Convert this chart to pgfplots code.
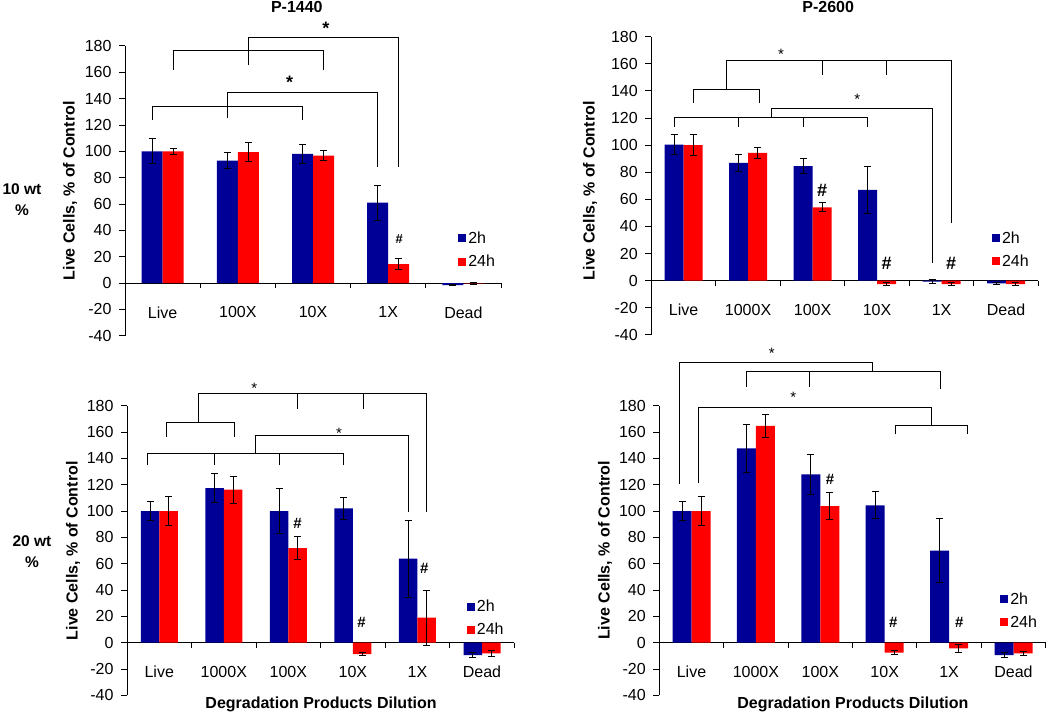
\documentclass[border=0pt]{standalone}
\usepackage{fontspec}
\setmainfont{Liberation Sans}
\usepackage{pgfplots}
\pgfplotsset{compat=1.18}
\definecolor{bblue}{RGB}{0,0,150}
\definecolor{rred}{RGB}{255,0,0}
\newcommand\fs{\fontsize{16}{19}\selectfont}
\tikzset{brk/.style={black, line width=1pt}}
\pgfplotsset{
 panel/.style={
   scale only axis,
   axis x line*=middle,
   axis y line*=left,
   axis line style={black, line width=1pt},
   ymin=-40, ymax=180,
   ytick={-40,-20,...,180},
   tick align=outside,
   major tick length=6pt,
   minor tick length=5pt,
   tick style={black, line width=1pt},
   major x tick style={draw=none},
   ybar=0pt,
   clip=false,
   tick label style={font=\fs},
   /pgf/number format/assume math mode=true,
   x tick label style={yshift=-14pt},
   y tick label style={xshift=-4pt},
   label style={font=\fs\bfseries},
   every axis title shift=0pt,
   ylabel={Live Cells, \% of Control},
   error bars/error bar style={draw=black, line width=1pt, solid},
   error bars/error mark options={rotate=90, draw=black, mark size=3.5pt, line width=1pt},
   legend style={draw=none, fill=none, font=\fs, inner sep=0pt, row sep=6pt, legend cell align=left},
   legend image code/.code={\fill[##1] (1pt,-4pt) rectangle (9pt,4pt);},
 },
 bl/.style={fill=bblue, draw=none, error bars/.cd, y dir=both, y explicit},
 rd/.style={fill=rred, draw=none, error bars/.cd, y dir=both, y explicit},
}
\begin{document}
\begin{tikzpicture}
\path[use as bounding box] (0,0) rectangle (1050pt,713pt);
% ---------- Panel 1 ----------
\begin{axis}[panel, at={(125pt,377.3pt)}, anchor=south west, width=376pt, height=289.7pt,
 xmin=-0.5, xmax=4.5, xtick={0,...,4}, xticklabels={Live,100X,10X,1X,Dead},
 minor xtick={0.5,1.5,2.5,3.5,4.5}, bar width=21pt,
 ylabel style={at={(axis description cs:-0.146,0.5)}, anchor=center},
 title={P-1440}, title style={at={(axis description cs:0.457,1.133)}, anchor=center, font=\fs\bfseries},
 legend style={at={(0.886,0.366)}, anchor=north west}]
\addplot[bl] coordinates {(0,100)+-(0,9.5) (1,93)+-(0,6) (2,98)+-(0,7.5) (3,61)+-(0,13.3) (4,-1.5)+-(0,0.7)};
\addplot[rd] coordinates {(0,100)+-(0,2.4) (1,99.5)+-(0,7.3) (2,96.7)+-(0,3.7) (3,14.4)+-(0,4.2) (4,-0.3)+-(0,1)};
\legend{2h,24h}
\draw[brk] (axis cs:1.14,165.8) -- (axis cs:1.14,186.8) -- (axis cs:3.14,186.8) -- (axis cs:3.14,88);
\draw[brk] (axis cs:0.14,162) -- (axis cs:0.14,176.7) -- (axis cs:2.14,176.7) -- (axis cs:2.14,162);
\draw[brk] (axis cs:0.86,125.6) -- (axis cs:0.86,144.6) -- (axis cs:2.86,144.6) -- (axis cs:2.86,88);
\draw[brk] (axis cs:-0.14,124) -- (axis cs:-0.14,134.2) -- (axis cs:1.86,134.2) -- (axis cs:1.86,124);
\node[anchor=base, font=\fontsize{18}{20}\selectfont\bfseries] at (axis cs:2.17,188.9) {*};
\node[anchor=base, font=\fontsize{18}{20}\selectfont\bfseries] at (axis cs:1.69,147.6) {*};
\node[font=\fontsize{13}{15}\selectfont\bfseries] at (axis cs:3.148,33) {\#};
\end{axis}
% ---------- Panel 2 ----------
\begin{axis}[panel, at={(651.3pt,378.1pt)}, anchor=south west, width=387pt, height=298.2pt,
 xmin=-0.5, xmax=5.5, xtick={0,...,5}, xticklabels={Live,1000X,100X,10X,1X,Dead},
 minor xtick={0.5,1.5,2.5,3.5,4.5,5.5}, bar width=19pt,
 ylabel style={at={(axis description cs:-0.158,0.483)}, anchor=center},
 title={P-2600}, title style={at={(axis description cs:0.457,1.098)}, anchor=center, font=\fs\bfseries},
 legend style={at={(0.88,0.353)}, anchor=north west}]
\addplot[bl] coordinates {(0,100.3)+-(0,7.2) (1,87)+-(0,6.2) (2,84.6)+-(0,5.6) (3,66.9)+-(0,17.6) (4,-0.7)+-(0,1.5) (5,-2)+-(0,1)};
\addplot[rd] coordinates {(0,100)+-(0,8) (1,94.2)+-(0,3.8) (2,54.1)+-(0,3.4) (3,-2.5)+-(0,1) (4,-2.5)+-(0,1) (5,-2.5)+-(0,1)};
\legend{2h,24h}
\draw[brk] (axis cs:0.665,141.1) -- (axis cs:0.665,162.5) -- (axis cs:4.147,162.5) -- (axis cs:4.147,42.8);
\draw[brk] (axis cs:2.147,162.5) -- (axis cs:2.147,151.5);
\draw[brk] (axis cs:3.147,162.5) -- (axis cs:3.147,151.5);
\draw[brk] (axis cs:0.16,130.8) -- (axis cs:0.16,141.1) -- (axis cs:1.17,141.1) -- (axis cs:1.17,130.8);
\draw[brk] (axis cs:1.356,120.2) -- (axis cs:1.356,126.9) -- (axis cs:3.853,126.9) -- (axis cs:3.853,13.3);
\draw[brk] (axis cs:-0.147,113.1) -- (axis cs:-0.147,120.2) -- (axis cs:2.853,120.2) -- (axis cs:2.853,113.1);
\draw[brk] (axis cs:0.853,120.2) -- (axis cs:0.853,113.1);
\draw[brk] (axis cs:1.853,120.2) -- (axis cs:1.853,113.1);
\node[anchor=base, font=\fontsize{15}{18}\selectfont] at (axis cs:1.511,163.1) {*};
\node[anchor=base, font=\fontsize{15}{18}\selectfont] at (axis cs:2.694,129.9) {*};
\node[font=\fontsize{18}{20}\selectfont\bfseries] at (axis cs:2.147,66.9) {\#};
\node[font=\fontsize{18}{20}\selectfont\bfseries] at (axis cs:3.147,12.8) {\#};
\node[font=\fontsize{18}{20}\selectfont\bfseries] at (axis cs:4.147,12.8) {\#};
\end{axis}
% ---------- Panel 3 ----------
\begin{axis}[panel, at={(127pt,17.6pt)}, anchor=south west, width=387.3pt, height=289.7pt,
 xmin=-0.5, xmax=5.5, xtick={0,...,5}, xticklabels={Live,1000X,100X,10X,1X,Dead},
 minor xtick={0.5,1.5,2.5,3.5,4.5,5.5}, bar width=18.5pt,
 ylabel style={at={(axis description cs:-0.139,0.499)}, anchor=center},
 xlabel={Degradation Products Dilution},
 xlabel style={at={(axis description cs:0.501,-0.03)}, anchor=center},
 legend style={at={(0.877,0.337)}, anchor=north west}]
\addplot[bl] coordinates {(0,100)+-(0,7.2) (1,117.5)+-(0,11.2) (2,100)+-(0,17) (3,102)+-(0,8.1) (4,63.8)+-(0,29.2) (5,-9.4)+-(0,2)};
\addplot[rd] coordinates {(0,100)+-(0,11.1) (1,116.2)+-(0,10.2) (2,71.9)+-(0,8.9) (3,-8.6)+-(0,1.3) (4,19)+-(0,20.8) (5,-8.1)+-(0,2)};
\legend{2h,24h}
\draw[brk] (axis cs:0.61,167.6) -- (axis cs:0.61,188.9) -- (axis cs:4.142,188.9) -- (axis cs:4.142,99.5);
\draw[brk] (axis cs:2.144,188.9) -- (axis cs:2.144,177.7);
\draw[brk] (axis cs:3.161,188.9) -- (axis cs:3.161,177.7);
\draw[brk] (axis cs:0.114,156.5) -- (axis cs:0.114,167.6) -- (axis cs:1.158,167.6) -- (axis cs:1.158,156.5);
\draw[brk] (axis cs:1.493,143.8) -- (axis cs:1.493,157.5) -- (axis cs:3.858,157.5) -- (axis cs:3.858,99.5);
\draw[brk] (axis cs:-0.18,134.7) -- (axis cs:-0.18,143.8) -- (axis cs:2.852,143.8) -- (axis cs:2.852,134.7);
\draw[brk] (axis cs:0.853,143.8) -- (axis cs:0.853,134.7);
\draw[brk] (axis cs:1.86,143.8) -- (axis cs:1.86,134.7);
\node[anchor=base, font=\fontsize{15}{18}\selectfont] at (axis cs:1.473,189.4) {*};
\node[anchor=base, font=\fontsize{15}{18}\selectfont] at (axis cs:2.784,155.2) {*};
\node[font=\fontsize{15}{18}\selectfont\bfseries] at (axis cs:2.144,91) {\#};
\node[font=\fontsize{15}{18}\selectfont\bfseries] at (axis cs:3.135,15.2) {\#};
\node[font=\fontsize{15}{18}\selectfont\bfseries] at (axis cs:4.106,56.2) {\#};
\end{axis}
% ---------- Panel 4 ----------
\begin{axis}[panel, at={(659.3pt,17.6pt)}, anchor=south west, width=386.4pt, height=289.7pt,
 xmin=-0.5, xmax=5.5, xtick={0,...,5}, xticklabels={Live,1000X,100X,10X,1X,Dead},
 minor xtick={0.5,1.5,2.5,3.5,4.5,5.5}, bar width=19pt,
 ylabel style={at={(axis description cs:-0.1405,0.5)}, anchor=center},
 xlabel={Degradation Products Dilution},
 xlabel style={at={(axis description cs:0.501,-0.03)}, anchor=center},
 legend style={at={(0.882,0.363)}, anchor=north west}]
\addplot[bl] coordinates {(0,100)+-(0,7.2) (1,147.6)+-(0,18.1) (2,127.8)+-(0,15) (3,104.3)+-(0,10.3) (4,69.9)+-(0,24.4) (5,-9.4)+-(0,2)};
\addplot[rd] coordinates {(0,100)+-(0,11.1) (1,164.6)+-(0,8.4) (2,103.8)+-(0,10) (3,-7.6)+-(0,1.5) (4,-4.3)+-(0,3.3) (5,-8.1)+-(0,1.8)};
\legend{2h,24h}
\draw[brk] (axis cs:-0.184,120.5) -- (axis cs:-0.184,212.7) -- (axis cs:2.807,212.7) -- (axis cs:2.807,206.3);
\draw[brk] (axis cs:0.851,194.4) -- (axis cs:0.851,206.3) -- (axis cs:3.859,206.3) -- (axis cs:3.859,192.4);
\draw[brk] (axis cs:1.829,206.3) -- (axis cs:1.829,194.4);
\draw[brk] (axis cs:0.106,121) -- (axis cs:0.106,178.7) -- (axis cs:3.729,178.7) -- (axis cs:3.729,165);
\draw[brk] (axis cs:3.175,158.5) -- (axis cs:3.175,165) -- (axis cs:4.289,165) -- (axis cs:4.289,158.5);
\node[anchor=base, font=\fontsize{15}{18}\selectfont] at (axis cs:1.245,216.2) {*};
\node[anchor=base, font=\fontsize{15}{18}\selectfont] at (axis cs:1.581,182.6) {*};
\node[font=\fontsize{15}{18}\selectfont\bfseries] at (axis cs:2.15,124) {\#};
\node[font=\fontsize{15}{18}\selectfont\bfseries] at (axis cs:3.134,15.2) {\#};
\node[font=\fontsize{15}{18}\selectfont\bfseries] at (axis cs:4.158,15.2) {\#};
\end{axis}
% row labels
\node[font=\fontsize{15.5}{20.7}\selectfont\bfseries, align=center] at (22pt,513.3pt) {10 wt\\\%};
\node[font=\fontsize{15.5}{20.7}\selectfont\bfseries, align=center] at (32pt,161.3pt) {20 wt\\\%};
\end{tikzpicture}
\end{document}
